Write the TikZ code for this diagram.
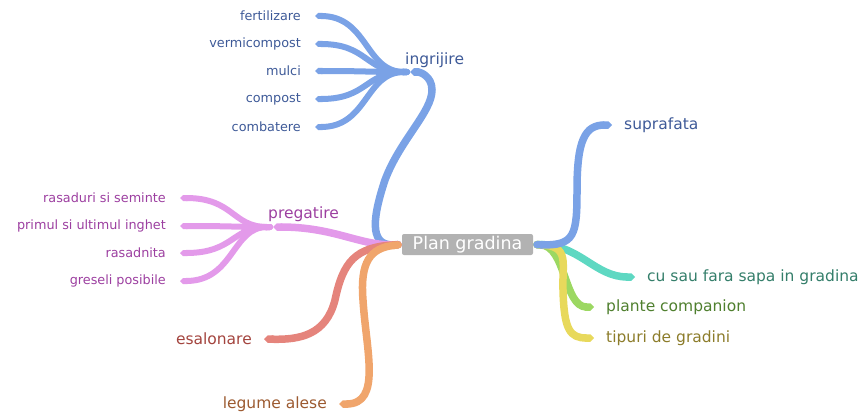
\documentclass[tikz,border=0pt]{standalone}
\usepackage{fontspec}
\setmainfont{DejaVu Sans}
\usepackage{xcolor}
\usetikzlibrary{arrows.meta}

\definecolor{blueBr}{HTML}{7AA2E6}
\definecolor{blueTx}{HTML}{3E5A98}
\definecolor{pinkBr}{HTML}{E39AEA}
\definecolor{pinkTx}{HTML}{9C3FA0}
\definecolor{redBr}{HTML}{E5847C}
\definecolor{redTx}{HTML}{A3443E}
\definecolor{orangeBr}{HTML}{F0A56C}
\definecolor{orangeTx}{HTML}{9C5A30}
\definecolor{tealBr}{HTML}{5ED8C2}
\definecolor{tealTx}{HTML}{347E6A}
\definecolor{greenBr}{HTML}{9CD862}
\definecolor{greenTx}{HTML}{4F7F2E}
\definecolor{yellowBr}{HTML}{E8D95C}
\definecolor{yellowTx}{HTML}{8C7C2A}
\definecolor{centerFill}{HTML}{B2B2B2}

\begin{document}
\begin{tikzpicture}[x=1pt,y=-1pt,
    branch/.style={line width=7.5pt,arrows={Round Cap-Triangle Cap}},
    twig/.style={line width=6pt,arrows={Round Cap-Triangle Cap}},
    topic/.style={font=\fontsize{15.5}{18}\selectfont,inner ysep=0pt,inner xsep=12pt},
    leaf/.style={font=\fontsize{12.8}{15}\selectfont,inner ysep=0pt,inner xsep=14pt,anchor=east}]
    \useasboundingbox (0,0) rectangle (867,412);

    % Center
    \node[fill=centerFill, rounded corners=2pt, text=white,
          minimum width=131pt, minimum height=21pt, inner sep=0pt,
          font=\fontsize{17.5}{20}\selectfont] (plan) at (467.5,244.5) {Plan gradina};

    % Hubs of the two left groups
    \coordinate (ingrHub) at (410,72);
    \coordinate (pregHub) at (273,227);
    \node[topic, text=blueTx, anchor=base west, inner xsep=0pt] (ingr) at (405,64) {ingrijire};
    \node[topic, text=pinkTx, anchor=base west, inner xsep=0pt] (preg) at (268,218) {pregatire};

    % Labels, left
    \node[leaf, text=blueTx] (fert) at (315,16) {fertilizare};
    \node[leaf, text=blueTx] (verm) at (315,44) {vermicompost};
    \node[leaf, text=blueTx] (mulci) at (315,71) {mulci};
    \node[leaf, text=blueTx] (comp) at (315,99) {compost};
    \node[leaf, text=blueTx] (comb) at (315,127) {combatere};
    \node[leaf, text=pinkTx] (rasad) at (180,198) {rasaduri si seminte};
    \node[leaf, text=pinkTx] (primul) at (180,226) {primul si ultimul inghet};
    \node[leaf, text=pinkTx] (rasadn) at (180,253) {rasadnita};
    \node[leaf, text=pinkTx] (gres) at (180,281) {greseli posibile};
    \node[topic, text=redTx, anchor=east] (esal) at (264,339) {esalonare};
    \node[topic, text=orangeTx, anchor=east] (leg) at (339,404) {legume alese};

    % Labels, right
    \node[topic, text=blueTx, anchor=west] (supr) at (612,125) {suprafata};
    \node[topic, text=tealTx, anchor=west] (sapa) at (635,277) {cu sau fara sapa in gradina};
    \node[topic, text=greenTx, anchor=west] (plante) at (594,307) {plante companion};
    \node[topic, text=yellowTx, anchor=west] (tipuri) at (594,338) {tipuri de gradini};

    % Ingrijire
    \draw[branch, blueBr] (plan.west) .. controls (372,246) and (370,225) .. (385,180)
        .. controls (400,140) and (432,112) .. (432,90) .. controls (432,76) and (420,72) .. (ingrHub);
    \foreach \leafname/\yy in {fert/16,verm/44,mulci/71,comp/99,comb/127}
        \draw[twig, blueBr] (ingrHub) .. controls (365,72) and (368,\yy) .. (\leafname.east);

    % Pregatire
    \draw[branch, pinkBr] (plan.west) .. controls (360,246) and (335,227) .. (pregHub);
    \foreach \leafname/\yy in {rasad/198,primul/226,rasadn/253,gres/281}
        \draw[twig, pinkBr] (pregHub) .. controls (232,227) and (234,\yy) .. (\leafname.east);

    % Esalonare, legume
    \draw[branch, redBr] (plan.west) .. controls (355,247) and (343,262) .. (335,300)
        .. controls (326,335) and (300,340) .. (esal.east);
    \draw[branch, orangeBr] (plan.west) .. controls (370,248) and (360,262) .. (363,300)
        .. controls (366,350) and (382,404) .. (leg.east);

    % Right side
    \draw[branch, tealBr] (plan.east) .. controls (580,245) and (595,277) .. (sapa.west);
    \draw[branch, greenBr] (plan.east) .. controls (566,246) and (564,307) .. (plante.west);
    \draw[branch, yellowBr] (plan.east) .. controls (570,246) and (562,262) .. (563,290)
        .. controls (564,330) and (570,338) .. (tipuri.west);
    \draw[branch, blueBr] (plan.east) .. controls (575,246) and (577,235) .. (577,190)
        .. controls (577,140) and (585,125) .. (supr.west);
\end{tikzpicture}
\end{document}
